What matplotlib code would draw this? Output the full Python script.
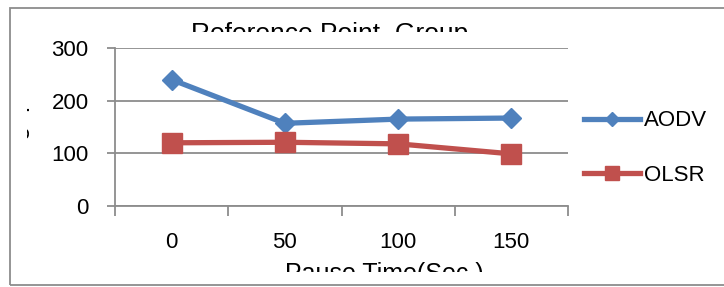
import matplotlib.pyplot as plt
from matplotlib.patches import Rectangle
from matplotlib.transforms import Bbox

# data
pause_times = ["0", "50", "100", "150"]
aodv = [240, 157, 165, 167]
olsr = [120, 121, 118, 99]

W, H = 724, 287
plt.rcParams['font.family'] = ['Liberation Sans', 'DejaVu Sans']

fig = plt.figure(figsize=(W / 100, H / 100), dpi=100)
ax = fig.add_axes([115 / W, 1 - 206 / H, (568 - 115) / W, (206 - 48) / H])

x = list(range(len(pause_times)))
ax.plot(x, aodv, "-D", color="#4F81BD", lw=3.8, ms=10, label="AODV")
ax.plot(x, olsr, "-s", color="#C0504D", lw=3.8, ms=14, label="OLSR")

ax.set_xlim(-0.5, len(pause_times) - 0.5)
ax.set_ylim(0, 300)
ax.set_yticks([0, 100, 200, 300])
ax.yaxis.grid(True, color="#8c8c8c", lw=1.3)
ax.set_axisbelow(True)

# category axis: tick marks between categories, labels at centres
ax.set_xticks([i - 0.5 for i in range(len(pause_times) + 1)])
ax.set_xticklabels([])
ax.set_xticks(x, minor=True)
ax.set_xticklabels(pause_times, minor=True)
ax.tick_params(axis="x", which="major", direction="out", length=7, color="#8c8c8c", width=1.3)
ax.tick_params(axis="x", which="minor", length=0, pad=19, labelsize=16)
ax.tick_params(axis="y", direction="out", length=6, color="#8c8c8c", width=1.3, labelsize=16, pad=13)

for s in ["top", "right"]:
    ax.spines[s].set_visible(False)
ax.spines["left"].set_color("#8c8c8c")
ax.spines["bottom"].set_color("#8c8c8c")
ax.spines["left"].set_linewidth(1.3)
ax.spines["bottom"].set_linewidth(1.3)

leg = ax.legend(loc="center left", bbox_to_anchor=(584 / W, 1 - 148 / H), bbox_transform=fig.transFigure,
                frameon=False, fontsize=16, handlelength=2.5, handletextpad=0.2, labelspacing=1.5,
                borderaxespad=0, borderpad=0, markerscale=0.75)

# outer chart border (right edge is cut off in the reference)
fig.patches.append(Rectangle((10 / W, 1 - 285 / H), 2, 277 / H, transform=fig.transFigure,
                             fill=False, ec="#8c8c8c", lw=1.3))

# clipped title and axis titles
t = fig.text(330 / W, 1 - 22 / H, "Reference Point  Group", ha="center", va="top", fontsize=19)
t.set_clip_box(Bbox([[0, H - 32], [W, H]]))
t.set_clip_on(True)

xl = fig.text(384 / W, 1 - 262 / H, "Pause Time(Sec.)", ha="center", va="top", fontsize=18)
xl.set_clip_box(Bbox([[0, H - 272], [W, H]]))
xl.set_clip_on(True)

yl = fig.text(5 / W, 1 - 140 / H, "Throughput", ha="left", va="center", rotation=90, fontsize=18)
yl.set_clip_box(Bbox([[27, 0], [32, H]]))
yl.set_clip_on(True)

fig.savefig("out.png", dpi=100)
